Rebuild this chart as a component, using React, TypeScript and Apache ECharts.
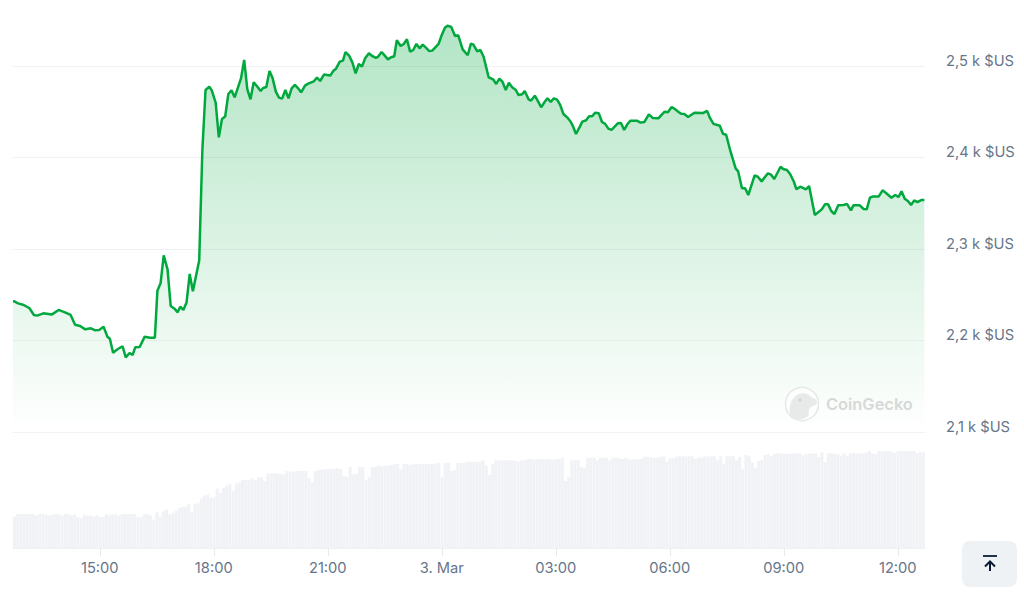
import React, { useEffect, useRef } from "react";
import * as echarts from "echarts";

// minutes counted from 2 March 00:00
const START_MINUTE = 763;
const END_MINUTE = 2203;
const tickMinutes = [900, 1080, 1260, 1440, 1620, 1800, 1980, 2160];
const tickLabels = ["15:00", "18:00", "21:00", "3. Mar", "03:00", "06:00", "09:00", "12:00"];
const priceTicks = [2100, 2200, 2300, 2400, 2500];

const priceMinutes = [
  763, 765, 771, 780, 789, 796, 801, 811, 824, 835, 845, 854, 861, 869, 877, 886, 893, 899, 906, 912, 916, 921, 928, 936, 941, 947, 952, 956, 963, 971, 979, 987, 991, 996, 1001, 1007, 1012, 1018, 1023, 1027, 1032, 1037, 1042, 1047, 1057,
  1062, 1067, 1073, 1077, 1083, 1088, 1093, 1098, 1103, 1108, 1113, 1123, 1128, 1133, 1138, 1143, 1148, 1154, 1158, 1163, 1168, 1173, 1178, 1183, 1188, 1193, 1198, 1203, 1208, 1214, 1218, 1224, 1229, 1238, 1243, 1248, 1254, 1264, 1269, 1273, 1279, 1284, 1288, 1294, 1299, 1304, 1309, 1314, 1319, 1325, 1330, 1336, 1339, 1345, 1350, 1355, 1360, 1365, 1369, 1375, 1380, 1385, 1390, 1395, 1400, 1405, 1410, 1415, 1420, 1425, 1435, 1440, 1445, 1449, 1455, 1461, 1466, 1473, 1481, 1486, 1490, 1496, 1501, 1506,
  1514, 1521, 1526, 1531, 1536, 1541, 1546, 1551, 1557, 1561, 1567, 1571, 1577, 1581, 1587, 1592, 1597, 1602, 1607, 1612, 1617, 1622, 1627, 1632, 1638, 1643, 1647, 1652, 1658, 1662, 1668, 1672, 1678, 1682, 1688, 1693, 1698, 1703, 1708, 1713, 1718, 1723, 1728, 1733, 1738, 1748, 1754, 1760, 1767, 1773, 1782, 1787, 1792, 1797, 1803, 1808, 1814, 1818, 1823, 1829, 1833, 1839, 1853, 1859,
  1863, 1869, 1879, 1884, 1889, 1896, 1904, 1908, 1914, 1919, 1924, 1934, 1939, 1945, 1955, 1960, 1965, 1975, 1979, 1985, 1990, 1996, 2000, 2006, 2015, 2020, 2029, 2040, 2045, 2050, 2055, 2060, 2066, 2074, 2080, 2086, 2090, 2100, 2106, 2111, 2116, 2121, 2130, 2136, 2141, 2150, 2156, 2161, 2166, 2171, 2176, 2181, 2186, 2191, 2197, 2202,
];
const priceValues = [
  2243, 2242.8, 2240.6, 2238.8, 2235.2, 2227.9, 2227.2, 2229.7, 2228.3, 2233.4, 2230.8, 2227.9, 2217.3, 2215.9, 2212.2, 2213.3, 2211.1, 2211.5, 2215.1, 2204.2, 2202, 2186.7, 2190.4, 2193.7, 2181.6, 2186.4, 2184.2, 2192.6, 2192.9, 2204.2, 2203.1, 2203.1, 2254.5, 2262.5, 2293.1, 2277.8, 2237.7, 2234.8, 2230.8, 2237, 2233.4, 2241.4, 2272.7, 2253.8, 2287.3,
  2408.2, 2473.8, 2477.4, 2473.1, 2460, 2422.1, 2442.1, 2444.7, 2469.4, 2473.4, 2465.8, 2486.5, 2506.6, 2474.5, 2463.6, 2482.2, 2478.2, 2472.7, 2476, 2477.1, 2494.6, 2486.5, 2472, 2465.4, 2464.3, 2473.8, 2464.7, 2475.6, 2479.3, 2474.9, 2471.2, 2478.5, 2480.7, 2483.3, 2487.3, 2483.6, 2490.6, 2489.5, 2494.9, 2497.1, 2504.8, 2505.9, 2515.3, 2511, 2503.7, 2492, 2502.2, 2499.3, 2508.4, 2513.9, 2511, 2508.8, 2509.9, 2515.3, 2511.3, 2507.3, 2509.5, 2510.6, 2528.1, 2521.9, 2524.1, 2529.2, 2515.7, 2517.5, 2524.1, 2519.3, 2523.3, 2520.1, 2516.4, 2516.8, 2524.1, 2533.9, 2541.9, 2544.1, 2542.6, 2532.8, 2533.5, 2518.2, 2511.7, 2524.4, 2523.3, 2516, 2517.5, 2510.2,
  2487.7, 2485.5, 2480.4, 2486.2, 2482.6, 2473.8, 2481.8, 2476.7, 2473.8, 2468.3, 2469.1, 2472.7, 2463.6, 2462.2, 2467.6, 2461.4, 2454.9, 2460.3, 2464.7, 2460.7, 2464.7, 2463.2, 2457.4, 2447.6, 2443.9, 2439.6, 2434.5, 2425.7, 2433.7, 2439.2, 2440.7, 2444.7, 2445.4, 2449, 2448.3, 2438.8, 2436.7, 2431.6, 2430.1, 2433.7, 2437.4, 2437.7, 2430.1, 2436.3, 2440.3, 2440.3, 2438.1, 2438.8, 2447.2, 2443.2, 2442.8, 2446.5, 2450.1, 2449.4, 2455.2, 2453, 2449.8, 2447.9, 2447.6, 2444.3, 2446.1, 2449, 2448.7, 2451,
  2443.9, 2436.8, 2434.7, 2426, 2424.9, 2406.3, 2388.1, 2384.8, 2366.3, 2366.3, 2359, 2380.5, 2379, 2373.9, 2382.7, 2381.2, 2376.5, 2389.9, 2387.4, 2386.3, 2381.9, 2373.5, 2365.2, 2368.1, 2365.2, 2368.8, 2337.1, 2343.3, 2348.8, 2348.8, 2341.5, 2338.2, 2347.7, 2348.1, 2349.1, 2342.2, 2347.7, 2347.7, 2343.7, 2343.3, 2356, 2357.5, 2357.5, 2364.1, 2361.5, 2356, 2359, 2356.8, 2363, 2355, 2352.4, 2348.1, 2353.1, 2351.3, 2353.5, 2353.5,
];

// one bar every five minutes, relative volume
const FIRST_BAR_MINUTE = 765.4;
const BAR_STEP = 5;
const volumes = [
  31.3, 34, 34, 34, 34, 34, 34, 32.7, 34, 34, 33.3, 32.7, 33.3, 34, 34, 32.7, 34, 34, 32.7, 33.7, 31, 29.7, 33.7, 32.3, 32.3, 31.3, 32.7, 31, 31, 33.7, 32.7, 33.7, 33.7, 32.3, 33.7, 34, 34, 34, 34, 31, 31, 33.7, 34, 32.7, 28.3, 35.7, 31, 36.7, 38.7, 33.7, 34.7, 37.3, 39.7, 41, 41.3, 43.7, 36, 43.7, 44.7, 49.7, 52.3, 53.3, 50.3, 50.3, 59.7, 55.3, 60.3, 62.3, 64, 57, 64.7, 65.7, 68, 68.3, 68.3, 69.7, 68, 70.3, 70.7, 67, 74.7, 74.7, 74.7, 74.7, 73.7, 73.7, 77, 76.3, 76.3, 77, 77, 77, 77,
  69.7, 65.7, 77, 78, 78.3, 78.7, 79, 79, 79, 79.7, 79, 72, 71, 81, 73.7, 73.7, 81, 81, 68, 70.7, 81, 81, 82.3, 81.7, 82.3, 82.3, 83, 83.7, 84, 79, 84, 84, 83, 83.7, 84, 84, 84, 84, 83.7, 84, 84.7, 85, 70.7, 85, 85, 77, 77.7, 85, 85, 85, 86.3, 86.3, 86.3, 86.3, 86.3, 87.7, 82.3, 73, 83.7, 87.7, 87.7, 87.7, 87.7, 87.7, 87.7, 87.3, 86.3, 87.7, 87.7, 88.7, 89, 88.3, 89, 89, 89, 89, 89, 88.3, 89, 89, 90.3, 67, 71, 87.7, 87.7, 87.7, 81, 79.7, 90.3, 90.3, 90.3, 87.7, 90.3, 90.3, 90.3, 87.7, 90.3, 90.3,
  89.7, 89, 90.3, 89.3, 88.7, 88.7, 88.7, 89.3, 91.3, 91.3, 90.7, 90, 90.3, 91.3, 91.7, 86.3, 89.7, 89.7, 91.3, 91.7, 91.7, 91.7, 91.7, 91.7, 89, 90.3, 90.3, 91.7, 91.7, 91.7, 91.7, 87.7, 91.7, 83.7, 91.7, 91.7, 91.7, 87.7, 91, 79, 93, 91.7, 85.7, 80.3, 87, 88.3, 93, 93.7, 91.7, 93.7, 94.7, 94.3, 94.3, 94.3, 94.3, 94.3, 94.7, 94.7, 93, 93.7, 94.3, 94.3, 94.7, 91, 95.7, 85.7, 94.7, 94.7, 94.3, 94.3, 92.3, 94.7, 92.3, 94.7, 94.7, 94.3, 94.3, 94.7, 95.7, 97, 94.3, 94, 97, 97, 97, 97, 96.3, 94.7, 97, 97, 97, 97, 97, 97, 94.7, 95.7, 95.7,
];

const LABEL_COLOR = "#677589";
const FONT = "Inter";

const gecko =
  "M6,31 C3,22 5,9 16,6.5 C20,5.5 24,7.5 26,10 L31,12.5 C33,15 32,18 28,19 C25,20 23,22 24,28 C21,32.5 11,34 6,31 Z";

export default function App() {
  const ref = useRef<HTMLDivElement>(null);
  useEffect(() => {
    document.body.style.margin = "0";
    echarts.graphic.registerShape(
      "geckoHead",
      echarts.graphic.extendPath(gecko as any, {}) as any
    );
    const chart = echarts.init(ref.current!, undefined, { renderer: "svg" });
    chart.setOption({
      animation: false,
      backgroundColor: "#ffffff",
      grid: [
        { left: 13, width: 912, top: 20.25, height: 411.75 },
        { left: 13, width: 912, top: 432, height: 116 },
      ],
      xAxis: [
        { type: "value", gridIndex: 0, min: START_MINUTE, max: END_MINUTE, show: false, splitLine: { show: false } },
        {
          type: "value",
          gridIndex: 1,
          min: START_MINUTE,
          max: END_MINUTE,
          splitLine: { show: false },
          axisLine: { show: true, lineStyle: { color: "#eff2f5", width: 1 } },
          axisTick: { show: true, length: 8, customValues: tickMinutes, lineStyle: { color: "#e6e9ee", width: 1 } },
          axisLabel: {
            customValues: tickMinutes,
            color: LABEL_COLOR,
            fontFamily: FONT,
            fontSize: 14.7,
            margin: 12,
            formatter: (v: number) => tickLabels[tickMinutes.indexOf(v)] ?? "",
          },
        },
      ],
      yAxis: [
        {
          type: "value",
          gridIndex: 0,
          position: "right",
          min: 2100,
          max: 2550,
          axisLine: { show: false },
          axisTick: { show: false },
          splitLine: { show: true, showMaxLine: false, lineStyle: { color: "#f1f2f4", width: 1 } },
          interval: 100,
          axisLabel: {
            customValues: priceTicks,
            color: LABEL_COLOR,
            fontFamily: FONT,
            fontSize: 14.7,
            margin: 21,
            align: "left",
            verticalAlign: "bottom",
            lineHeight: 10.5,
            formatter: (v: number) => `${String(v / 1000).replace(".", ",")} k $US`,
          },
        },
        { type: "value", gridIndex: 1, min: 0, max: 116, show: false, splitLine: { show: false } },
      ],
      series: [
        {
          type: "bar",
          xAxisIndex: 1,
          yAxisIndex: 1,
          barWidth: 3,
          itemStyle: { color: "#f0f2f5" },
          data: volumes.map((v, i) => [FIRST_BAR_MINUTE + i * BAR_STEP, v]),
        },
        {
          type: "line",
          xAxisIndex: 0,
          yAxisIndex: 0,
          symbol: "none",
          smooth: false,
          lineStyle: { color: "#00a83e", width: 2.5 },
          areaStyle: {
            origin: "start",
            opacity: 1,
            color: new echarts.graphic.LinearGradient(0, 0, 0, 1, [
              { offset: 0, color: "rgba(0,168,62,0.3)" },
              { offset: 1, color: "rgba(0,168,62,0)" },
            ]),
          },
          data: priceMinutes.map((m, i) => [m, priceValues[i]]),
        },
      ],
      graphic: [
        { type: "circle", z: 10, shape: { cx: 802, cy: 404, r: 16.5 }, style: { fill: "rgba(255,255,255,0.5)", stroke: "#e6e8e7", lineWidth: 1.5 } },
        { type: "geckoHead", z: 10, x: 785, y: 387, style: { fill: "#e8eae9" } },
        { type: "circle", z: 11, shape: { cx: 800, cy: 400, r: 1.6 }, style: { fill: "#d2d5d4" } },
        { type: "text", z: 10, x: 826, y: 404, style: { text: "CoinGecko", fill: "#d6d9d8", font: "600 16.4px Inter", verticalAlign: "middle" } },
        { type: "rect", z: 10, shape: { x: 962, y: 541, width: 55, height: 46, r: 8 }, style: { fill: "#eff2f5" } },
        { type: "line", z: 11, shape: { x1: 983, y1: 556, x2: 997, y2: 556 }, style: { stroke: "#0d1a34", lineWidth: 1.8 } },
        { type: "line", z: 11, shape: { x1: 990, y1: 562, x2: 990, y2: 571 }, style: { stroke: "#0d1a34", lineWidth: 2 } },
        { type: "polyline", z: 11, shape: { points: [[985, 566.5], [990, 561.5], [995, 566.5]] }, style: { stroke: "#0d1a34", lineWidth: 2, fill: "none" } },
      ],
    });
    return () => chart.dispose();
  }, []);
  return <div ref={ref} style={{ position: "fixed", left: 0, top: 0, width: 1024, height: 603 }} />;
}
